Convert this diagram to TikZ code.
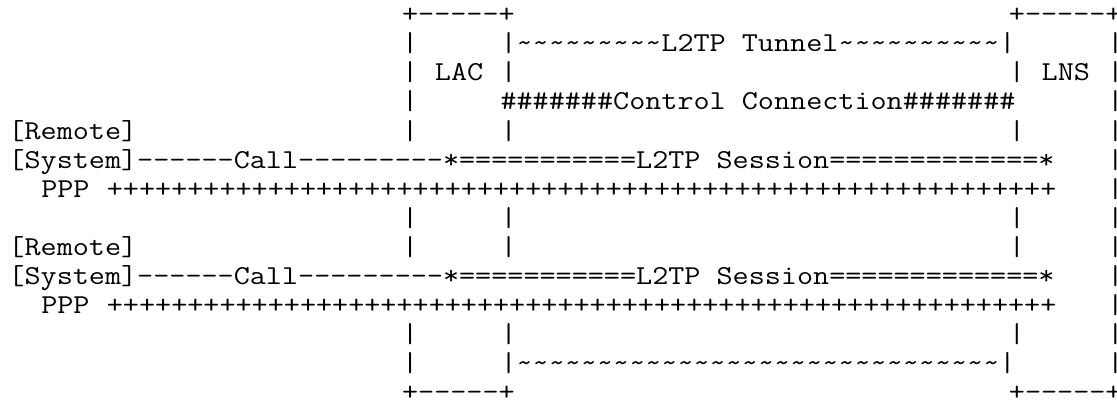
\documentclass[tikz,border=0pt]{standalone}
\usepackage{fontspec}
\setmonofont{Latin Modern Mono}[FakeStretch=1.143]
\newcommand\tld{\textasciitilde}
\newcommand\tldrep[1]{\foreach\k in {1,...,#1}{\tld}}
\newcommand\cw{16.4}
\newcommand\ox{8.5}
\newcommand\ascii[4]{\node[asc] (#1) at ({\ox+\cw*#2},{22.8+29.05*#3}) {#4};}
\tikzset{asc/.style={anchor=base west, inner sep=0pt, outer sep=0pt,
  font=\ttfamily\fontsize{13.67pt}{14pt}\selectfont, text=black}}
\begin{document}
\begin{tikzpicture}[x=0.5pt,y=-0.5pt]
\useasboundingbox (0,0) rectangle (1117,403);
% row 0
\ascii{lactop}{24}{0}{+-----+}
\ascii{lnstop}{61}{0}{+-----+}
% row 1
\ascii{r1a}{24}{1}{|}
\ascii{tunnel}{30}{1}{|\tldrep{9}L2TP Tunnel\tldrep{10}|}
\ascii{r1b}{67}{1}{|}
% row 2
\ascii{r2a}{24}{2}{|}
\ascii{lac}{26}{2}{LAC}
\ascii{r2b}{30}{2}{|}
\ascii{r2c}{61}{2}{|}
\ascii{lns}{63}{2}{LNS}
\ascii{r2d}{67}{2}{|}
% row 3
\ascii{r3a}{24}{3}{|}
\ascii{control}{30}{3}{\#\#\#\#\#\#\#Control Connection\#\#\#\#\#\#\#}
\ascii{r3b}{67}{3}{|}
% row 4
\ascii{remoteA}{0}{4}{[Remote]}
\ascii{r4a}{24}{4}{|}
\ascii{r4b}{30}{4}{|}
\ascii{r4c}{61}{4}{|}
\ascii{r4d}{67}{4}{|}
% row 5
\ascii{sessionA}{0}{5}{[System]------Call---------*===========L2TP Session=============*}
\ascii{r5a}{67}{5}{|}
% row 6
\ascii{pppA}{2}{6}{PPP}
\ascii{plusA}{6}{6}{+++++++++++++++++++++++++++++++++++++++++++++++++++++++++++}
\ascii{r6a}{67}{6}{|}
% row 7
\ascii{r7a}{24}{7}{|}
\ascii{r7b}{30}{7}{|}
\ascii{r7c}{61}{7}{|}
\ascii{r7d}{67}{7}{|}
% row 8
\ascii{remoteB}{0}{8}{[Remote]}
\ascii{r8a}{24}{8}{|}
\ascii{r8b}{30}{8}{|}
\ascii{r8c}{61}{8}{|}
\ascii{r8d}{67}{8}{|}
% row 9
\ascii{sessionB}{0}{9}{[System]------Call---------*===========L2TP Session=============*}
\ascii{r9a}{67}{9}{|}
% row 10
\ascii{pppB}{2}{10}{PPP}
\ascii{plusB}{6}{10}{+++++++++++++++++++++++++++++++++++++++++++++++++++++++++++}
\ascii{r10a}{67}{10}{|}
% row 11
\ascii{r11a}{24}{11}{|}
\ascii{r11b}{30}{11}{|}
\ascii{r11c}{61}{11}{|}
\ascii{r11d}{67}{11}{|}
% row 12
\ascii{r12a}{24}{12}{|}
\ascii{tunnelB}{30}{12}{|\tldrep{30}|}
\ascii{r12b}{67}{12}{|}
% row 13
\ascii{lacbot}{24}{13}{+-----+}
\ascii{lnsbot}{61}{13}{+-----+}
\end{tikzpicture}
\end{document}
